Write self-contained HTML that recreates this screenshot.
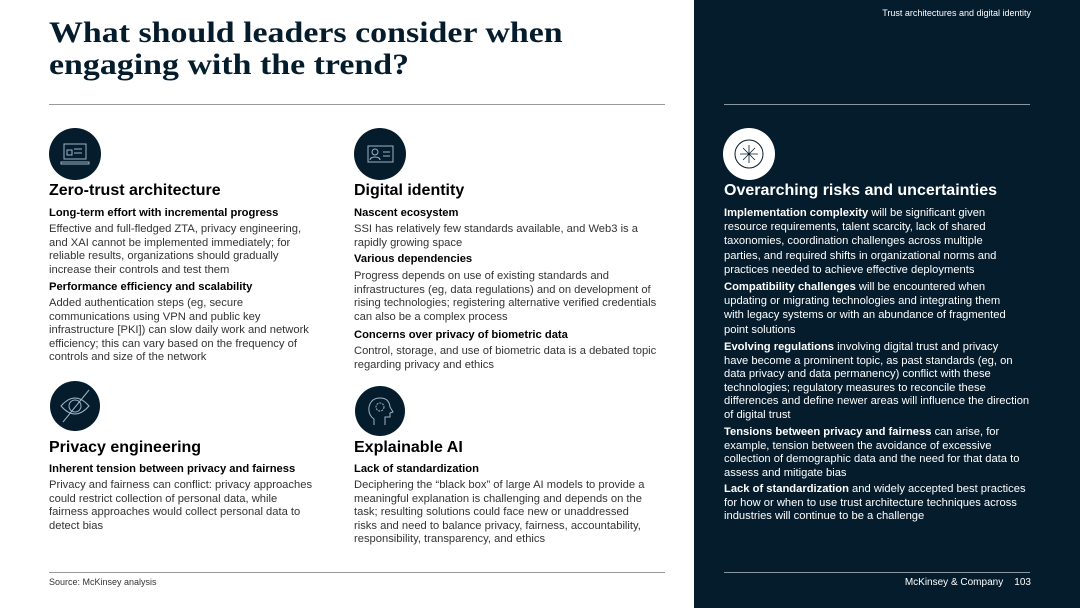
<!DOCTYPE html>
<html><head><meta charset="utf-8">
<style>
*{margin:0;padding:0;box-sizing:border-box}
body{width:1080px;height:608px;position:relative;overflow:hidden;background:#fff;font-family:"Liberation Sans",Arial,sans-serif;color:#333}
.a{position:absolute;white-space:nowrap}
.t{font-family:"Liberation Serif",serif;font-weight:bold;font-size:30px;line-height:32px;color:#051c2c;left:49px;top:17px;transform:scaleX(1.13);transform-origin:0 0}
.h{font-size:16px;font-weight:bold;color:#000;line-height:18px}
.s{font-size:11.2px;font-weight:bold;color:#000;line-height:14px}
.p{font-size:11.2px;line-height:13.6px;color:#333}
.r{color:#fff;font-size:11.2px}
.r b{font-weight:bold}
.hr{position:absolute;height:1px;background:#999}
svg{position:absolute}
</style></head><body>
<div style="position:absolute;left:694px;top:0;width:386px;height:608px;background:#051c2c"></div>
<div class="a" style="right:49px;top:8px;font-size:9px;color:#fff">Trust architectures and digital identity</div>
<div class="a t">What should leaders consider when<br>engaging with the trend?</div>
<div class="hr" style="left:49px;width:616px;top:104px"></div>
<div class="hr" style="left:724px;width:306px;top:104px;background:#8a96a0"></div>
<div class="hr" style="left:49px;width:616px;top:572px"></div>
<div class="hr" style="left:724px;width:306px;top:572px;background:#8a96a0"></div>

<svg style="left:49px;top:128px" width="52" height="52"><circle cx="26" cy="26" r="26" fill="#051c2c"/><rect x="15" y="16" width="22" height="15" fill="none" stroke="#9fb3c8" stroke-width="1"/><path d="M12 34h28v2H12z" fill="none" stroke="#9fb3c8"/><rect x="18" y="22" width="5" height="5" fill="none" stroke="#9fb3c8"/><path d="M25 21h8M25 25h8" stroke="#9fb3c8"/></svg>
<svg style="left:354px;top:128px" width="52" height="52"><circle cx="26" cy="26" r="26" fill="#051c2c"/><rect x="14" y="18" width="25" height="16" fill="none" stroke="#9fb3c8"/><circle cx="21" cy="24" r="3" fill="none" stroke="#9fb3c8"/><path d="M16 32c0-4 10-4 10 0M29 24h7M29 28h7" fill="none" stroke="#9fb3c8"/></svg>
<svg style="left:723px;top:128px" width="52" height="52"><circle cx="26" cy="26" r="26" fill="#fff"/><circle cx="26" cy="26" r="14" fill="none" stroke="#051c2c"/><path d="M26 17v18M17 26h18M20 20l12 12M32 20l-12 12" stroke="#051c2c" stroke-width="0.8"/></svg>
<svg style="left:49px;top:380px" width="52" height="52"><circle cx="26" cy="26" r="25" fill="#051c2c"/><path d="M12 26q14-16 28 0q-14 16-28 0z" fill="none" stroke="#9fb3c8"/><circle cx="26" cy="26" r="6" fill="none" stroke="#9fb3c8"/><path d="M14 42L40 10" stroke="#9fb3c8"/></svg>
<svg style="left:354px;top:385px" width="52" height="52"><circle cx="26" cy="26" r="25" fill="#051c2c"/><path d="M20 40v-6q-6-4-5-12q2-9 11-9q9 0 10 9l3 5-3 1v4h-5v8" fill="none" stroke="#9fb3c8"/><circle cx="26" cy="22" r="4" fill="none" stroke="#9fb3c8" stroke-dasharray="2 1"/></svg>

<div class="a h" style="left:49px;top:182px">Zero-trust architecture</div>
<div class="a s" style="left:49px;top:206px">Long-term effort with incremental progress</div>
<div class="a p" style="left:49px;top:223px">Effective and full-fledged ZTA, privacy engineering,<br>and XAI cannot be implemented immediately; for<br>reliable results, organizations should gradually<br>increase their controls and test them</div>
<div class="a s" style="left:49px;top:280px">Performance efficiency and scalability</div>
<div class="a p" style="left:49px;top:297px">Added authentication steps (eg, secure<br>communications using VPN and public key<br>infrastructure [PKI]) can slow daily work and network<br>efficiency; this can vary based on the frequency of<br>controls and size of the network</div>

<div class="a h" style="left:354px;top:182px">Digital identity</div>
<div class="a s" style="left:354px;top:206px">Nascent ecosystem</div>
<div class="a p" style="left:354px;top:223px">SSI has relatively few standards available, and Web3 is a<br>rapidly growing space</div>
<div class="a s" style="left:354px;top:252px">Various dependencies</div>
<div class="a p" style="left:354px;top:270px">Progress depends on use of existing standards and<br>infrastructures (eg, data regulations) and on development of<br>rising technologies; registering alternative verified credentials<br>can also be a complex process</div>
<div class="a s" style="left:354px;top:328px">Concerns over privacy of biometric data</div>
<div class="a p" style="left:354px;top:345px">Control, storage, and use of biometric data is a debated topic<br>regarding privacy and ethics</div>

<div class="a h" style="left:49px;top:439px">Privacy engineering</div>
<div class="a s" style="left:49px;top:462px">Inherent tension between privacy and fairness</div>
<div class="a p" style="left:49px;top:479px">Privacy and fairness can conflict: privacy approaches<br>could restrict collection of personal data, while<br>fairness approaches would collect personal data to<br>detect bias</div>

<div class="a h" style="left:354px;top:439px">Explainable AI</div>
<div class="a s" style="left:354px;top:462px">Lack of standardization</div>
<div class="a p" style="left:354px;top:479px">Deciphering the “black box” of large AI models to provide a<br>meaningful explanation is challenging and depends on the<br>task; resulting solutions could face new or unaddressed<br>risks and need to balance privacy, fairness, accountability,<br>responsibility, transparency, and ethics</div>

<div class="a h r" style="left:724px;top:182px;font-size:16px">Overarching risks and uncertainties</div>
<div class="a p r" style="left:724px;top:206px;line-height:14.2px"><b>Implementation complexity</b> will be significant given<br>resource requirements, talent scarcity, lack of shared<br>taxonomies, coordination challenges across multiple<br>parties, and required shifts in organizational norms and<br>practices needed to achieve effective deployments</div>
<div class="a p r" style="left:724px;top:280px;line-height:14.2px"><b>Compatibility challenges</b> will be encountered when<br>updating or migrating technologies and integrating them<br>with legacy systems or with an abundance of fragmented<br>point solutions</div>
<div class="a p r" style="left:724px;top:341px"><b>Evolving regulations</b> involving digital trust and privacy<br>have become a prominent topic, as past standards (eg, on<br>data privacy and data permanency) conflict with these<br>technologies; regulatory measures to reconcile these<br>differences and define newer areas will influence the direction<br>of digital trust</div>
<div class="a p r" style="left:724px;top:426px"><b>Tensions between privacy and fairness</b> can arise, for<br>example, tension between the avoidance of excessive<br>collection of demographic data and the need for that data to<br>assess and mitigate bias</div>
<div class="a p r" style="left:724px;top:483px"><b>Lack of standardization</b> and widely accepted best practices<br>for how or when to use trust architecture techniques across<br>industries will continue to be a challenge</div>

<div class="a" style="left:49px;top:577px;font-size:9px;color:#333">Source: McKinsey analysis</div>
<div class="a" style="right:49px;top:577px;font-size:10px;color:#fff">McKinsey &amp; Company&nbsp;&nbsp;&nbsp;&nbsp;103</div>
</body></html>
